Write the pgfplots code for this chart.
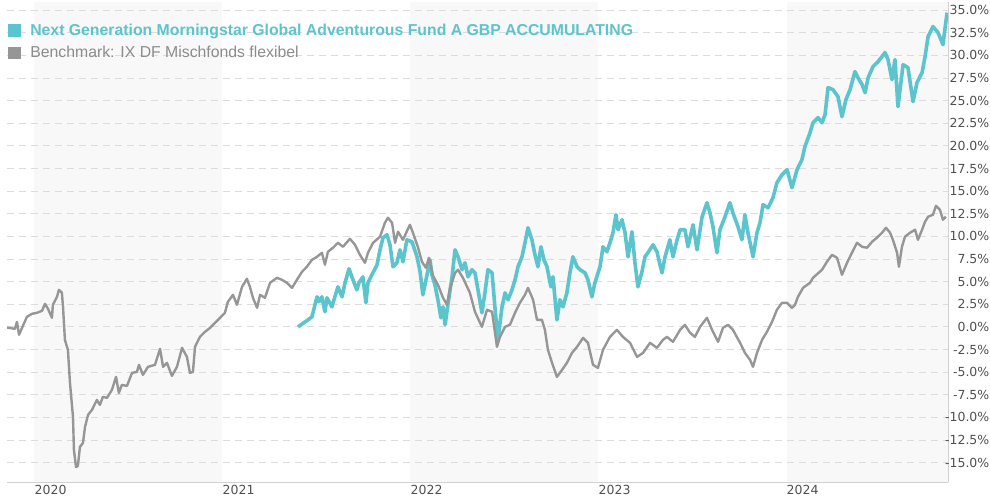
\documentclass[border=0pt]{standalone}
\usepackage{pgfplots}
\pgfplotsset{compat=1.18}
\usepackage{fontspec}
\setmainfont{Liberation Sans}
\newfontfamily\tickfont{DejaVu Sans}
\definecolor{tealc}{RGB}{92,196,204}
\definecolor{greyc}{RGB}{150,150,150}
\definecolor{greytxt}{RGB}{140,140,140}
\definecolor{bandc}{RGB}{248,248,248}
\definecolor{gridc}{RGB}{220,220,220}
\definecolor{labc}{RGB}{80,80,80}
\begin{document}
\begin{tikzpicture}
\begin{axis}[
  set layers,
  at={(0,0)}, anchor=south west,
  scale only axis, width=941pt, height=480.4pt,
  xmin=-0.146, xmax=4.859, ymin=-17.15, ymax=35.95,
  axis x line*=bottom, axis y line*=right,
  axis line style={draw=black!18, line width=0.8pt},
  xtick={0,1,2,3,4}, xticklabels={2020,2021,2022,2023,2024},
  ytick={-15,-12.5,...,35},
  major tick length=0pt,
  yticklabel={\pgfmathprintnumber[fixed,fixed zerofill,precision=1]{\tick}\%},
  /pgf/number format/assume math mode=true,
  xticklabel style={anchor=north west, inner sep=0pt, yshift=-3pt, font=\tickfont\fontsize{12.5}{14}\selectfont, text=labc},
  yticklabel style={anchor=east, inner sep=0pt, xshift=41.5pt, font=\tickfont\fontsize{12.5}{14}\selectfont, text=labc},
  ymajorgrids,
  grid style={draw=gridc, dash pattern=on 7pt off 5pt, line width=0.8pt},
  legend style={at={(rel axis cs:0,1)}, anchor=north west, xshift=0.5pt, yshift=-22pt,
    draw=none, fill=none, inner sep=0pt, row sep=9pt,
    font=\fontsize{15.8}{18}\selectfont, nodes={inner sep=0pt},
    /tikz/every odd column/.append style={column sep=9pt}},
  legend cell align=left,
  line join=round,
]
\addplot[forget plot, on layer=axis background, fill=bandc, draw=none] coordinates {(0,-17.15) (1,-17.15) (1,35.95) (0,35.95)} -- cycle;
\addplot[forget plot, on layer=axis background, fill=bandc, draw=none] coordinates {(2,-17.15) (3,-17.15) (3,35.95) (2,35.95)} -- cycle;
\addplot[forget plot, on layer=axis background, fill=bandc, draw=none] coordinates {(4,-17.15) (4.859,-17.15) (4.859,35.95) (4,35.95)} -- cycle;

\addplot[tealc, line width=3.6pt, mark=none,
  legend image code/.code={\fill[tealc] (0pt,-5pt) rectangle (10pt,5pt);}] coordinates {
(1.402,0) (1.455,0.77) (1.476,1.11) (1.503,3.32) (1.513,2.77) (1.529,3.32) (1.545,1.66) (1.556,3.21) (1.582,2.21) (1.598,3.32) (1.614,4.42) (1.636,3.32) (1.652,4.87) (1.673,6.42) (1.694,5.20) (1.715,4.09) (1.726,4.87) (1.747,5.53) (1.763,2.65) (1.774,4.87) (1.795,5.75) (1.822,6.86) (1.838,8.52) (1.854,9.85) (1.875,10.18) (1.891,9.07) (1.907,6.64) (1.928,7.08) (1.944,8.52) (1.960,7.19) (1.981,9.62) (2.008,9.40) (2.035,7.74) (2.051,6.08) (2.066,3.54) (2.088,5.75) (2.104,7.41) (2.114,5.75) (2.130,4.65) (2.146,2.99) (2.162,1.00) (2.173,2.21) (2.184,0.22) (2.199,2.43) (2.221,5.53) (2.237,8.52) (2.253,7.74) (2.274,6.31) (2.290,7.08) (2.306,5.53) (2.327,6.31) (2.343,5.97) (2.359,4.09) (2.380,1.55) (2.396,3.76) (2.412,6.31) (2.434,5.97) (2.449,2.21) (2.465,-1.44) (2.487,2.21) (2.503,3.76) (2.519,2.99) (2.540,4.09) (2.556,5.20) (2.572,6.64) (2.593,7.74) (2.609,9.29) (2.625,10.95) (2.646,9.62) (2.662,7.96) (2.678,6.64) (2.694,8.85) (2.710,7.41) (2.726,6.64) (2.747,4.42) (2.758,5.53) (2.779,0.77) (2.795,2.99) (2.811,2.21) (2.832,3.76) (2.848,5.97) (2.864,7.74) (2.886,6.64) (2.902,6.31) (2.928,5.97) (2.944,5.20) (2.965,3.32) (2.981,4.87) (3.008,6.64) (3.024,8.85) (3.045,8.30) (3.061,9.29) (3.077,10.40) (3.093,12.39) (3.104,10.73) (3.125,11.84) (3.141,10.40) (3.157,7.74) (3.178,10.51) (3.194,7.08) (3.210,4.42) (3.231,6.08) (3.247,7.74) (3.263,8.19) (3.290,9.07) (3.311,8.30) (3.327,6.86) (3.338,5.97) (3.354,7.74) (3.380,9.62) (3.396,7.74) (3.418,9.62) (3.434,10.73) (3.460,10.73) (3.476,8.85) (3.503,11.28) (3.524,8.52) (3.551,12.17) (3.577,13.72) (3.593,12.61) (3.609,11.06) (3.630,8.19) (3.646,10.73) (3.673,12.17) (3.699,13.72) (3.715,12.61) (3.742,11.06) (3.763,9.62) (3.779,12.39) (3.795,10.40) (3.822,7.74) (3.843,10.40) (3.859,11.50) (3.875,13.50) (3.902,13.16) (3.928,14.27) (3.949,15.93) (3.976,16.81) (4.003,17.37) (4.029,15.38) (4.056,17.37) (4.082,18.47) (4.098,19.91) (4.125,21.46) (4.141,22.57) (4.168,23.12) (4.189,22.57) (4.205,23.45) (4.221,26.44) (4.247,26.22) (4.274,25.44) (4.295,23.23) (4.316,25.11) (4.338,26.22) (4.364,28.21) (4.380,27.54) (4.402,26.77) (4.418,25.88) (4.434,27.54) (4.460,28.76) (4.487,29.31) (4.524,30.31) (4.540,29.54) (4.561,27.32) (4.577,29.54) (4.593,24.34) (4.620,28.98) (4.646,28.65) (4.673,24.89) (4.694,26.99) (4.721,28.10) (4.737,29.87) (4.753,32.08) (4.779,33.19) (4.806,32.52) (4.832,31.19) (4.854,34.73)
};
\addlegendentry{\textcolor{tealc}{\bfseries Next Generation Morningstar Global Adventurous Fund A GBP ACCUMULATING}}

\addplot[greyc, line width=2.4pt, mark=none,
  legend image code/.code={\fill[greyc] (0pt,-5pt) rectangle (10pt,5pt);}] coordinates {
(-0.146,-0.08) (-0.104,-0.22) (-0.093,0.55) (-0.082,-0.88) (-0.066,-0.11) (-0.040,1.11) (-0.013,1.44) (0.013,1.55) (0.040,1.77) (0.056,2.54) (0.072,1.99) (0.093,1.00) (0.098,2.43) (0.120,3.32) (0.130,4.09) (0.146,3.76) (0.152,2.21) (0.162,-1.44) (0.178,-2.54) (0.189,-6.19) (0.205,-9.96) (0.210,-13.61) (0.221,-15.49) (0.231,-15.38) (0.242,-13.27) (0.258,-12.83) (0.269,-11.06) (0.285,-9.73) (0.306,-9.18) (0.332,-8.08) (0.348,-8.63) (0.364,-7.74) (0.386,-7.85) (0.412,-6.97) (0.434,-5.53) (0.449,-7.30) (0.465,-6.42) (0.492,-6.53) (0.519,-5.09) (0.545,-4.98) (0.556,-4.20) (0.577,-5.31) (0.604,-4.42) (0.641,-4.20) (0.668,-2.43) (0.684,-4.42) (0.705,-3.98) (0.731,-5.42) (0.758,-4.42) (0.785,-2.32) (0.811,-3.32) (0.827,-5.09) (0.843,-4.98) (0.854,-2.21) (0.880,-1.11) (0.907,-0.55) (0.934,-0.11) (0.960,0.44) (0.987,1.00) (1.013,1.55) (1.029,2.77) (1.056,3.54) (1.077,2.43) (1.104,4.42) (1.130,5.31) (1.146,4.42) (1.162,3.21) (1.184,2.10) (1.200,3.54) (1.226,3.21) (1.253,4.87) (1.290,5.42) (1.316,5.20) (1.343,4.87) (1.370,4.31) (1.396,5.20) (1.423,6.08) (1.449,6.64) (1.476,7.41) (1.503,7.74) (1.529,8.19) (1.545,6.86) (1.561,8.30) (1.588,8.74) (1.614,9.29) (1.641,8.85) (1.678,9.73) (1.705,9.07) (1.731,7.96) (1.758,7.08) (1.774,8.19) (1.801,9.29) (1.838,9.96) (1.864,11.50) (1.880,12.06) (1.902,11.50) (1.918,9.29) (1.934,10.51) (1.960,9.62) (1.997,11.28) (2.013,10.40) (2.039,8.85) (2.061,7.19) (2.082,6.53) (2.098,7.63) (2.120,5.64) (2.146,4.65) (2.173,3.21) (2.194,2.43) (2.210,4.20) (2.237,5.97) (2.253,6.31) (2.279,5.42) (2.316,3.76) (2.343,1.66) (2.380,0.00) (2.407,1.88) (2.434,1.66) (2.460,-2.21) (2.476,-1.11) (2.503,0.00) (2.529,0.22) (2.556,1.55) (2.582,2.65) (2.609,3.54) (2.625,4.31) (2.652,2.99) (2.673,0.77) (2.699,0.77) (2.715,-0.33) (2.731,-2.54) (2.753,-3.98) (2.779,-5.53) (2.806,-4.76) (2.832,-3.98) (2.859,-2.88) (2.886,-2.21) (2.918,-1.22) (2.944,-1.77) (2.971,-4.20) (2.997,-4.54) (3.024,-2.54) (3.061,-1.11) (3.098,-0.33) (3.130,-1.11) (3.168,-1.77) (3.205,-3.32) (3.237,-2.88) (3.274,-1.77) (3.311,-2.32) (3.343,-1.44) (3.364,-1.11) (3.396,-1.66) (3.434,-0.33) (3.460,0.22) (3.487,-0.66) (3.513,-1.11) (3.540,0.00) (3.577,1.00) (3.604,-0.33) (3.636,-1.66) (3.662,-0.11) (3.689,0.22) (3.715,-0.33) (3.753,-1.77) (3.779,-2.88) (3.806,-3.65) (3.822,-4.42) (3.843,-2.88) (3.870,-1.44) (3.896,-0.55) (3.923,0.55) (3.949,1.88) (3.976,2.65) (4.003,2.65) (4.029,2.10) (4.045,2.43) (4.061,3.32) (4.088,4.31) (4.125,4.87) (4.141,5.42) (4.189,6.31) (4.215,7.19) (4.242,7.96) (4.269,7.63) (4.295,5.75) (4.322,7.08) (4.348,8.19) (4.375,9.29) (4.402,8.85) (4.428,8.74) (4.455,9.40) (4.481,9.85) (4.508,10.40) (4.529,10.95) (4.551,10.40) (4.566,9.62) (4.588,8.19) (4.598,6.64) (4.614,8.85) (4.630,9.96) (4.657,10.40) (4.684,10.73) (4.699,9.62) (4.721,10.73) (4.737,11.62) (4.753,12.17) (4.779,12.39) (4.795,13.38) (4.816,12.94) (4.832,11.84) (4.848,12.17)
};
\addlegendentry{\textcolor{greytxt}{Benchmark: IX DF Mischfonds flexibel}}
\end{axis}
\pgfresetboundingbox
\path[use as bounding box] (-7pt,-18pt) rectangle (983pt,482pt);
\end{tikzpicture}
\end{document}
